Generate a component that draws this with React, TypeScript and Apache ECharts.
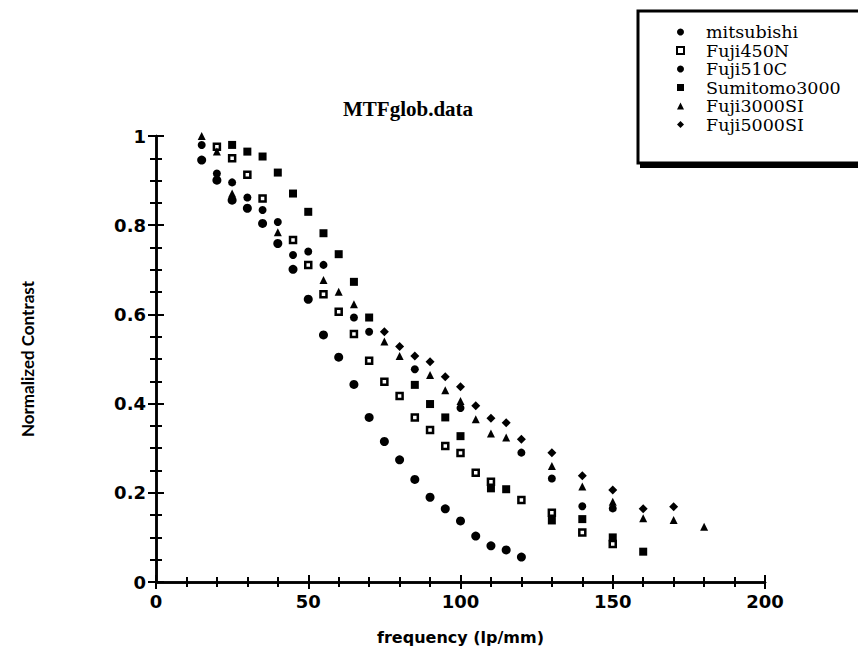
import React, { useEffect, useRef } from "react";
import * as echarts from "echarts";

const seriesNames = ["mitsubishi", "Fuji450N", "Fuji510C", "Sumitomo3000", "Fuji3000SI", "Fuji5000SI"];

const mitsubishi = [
  [15, 0.946], [20, 0.901], [25, 0.856], [30, 0.838], [35, 0.804], [40, 0.759], [45, 0.701], [50, 0.634],
  [55, 0.554], [60, 0.504], [65, 0.443], [70, 0.369], [75, 0.315], [80, 0.274], [85, 0.23], [90, 0.19],
  [95, 0.164], [100, 0.137], [105, 0.103], [110, 0.081], [115, 0.072], [120, 0.056],
];
const fuji450N = [
  [20, 0.976], [25, 0.95], [30, 0.913], [35, 0.86], [45, 0.767], [50, 0.711], [55, 0.645], [60, 0.606],
  [65, 0.556], [70, 0.496], [75, 0.449], [80, 0.417], [85, 0.369], [90, 0.341], [95, 0.305], [100, 0.289],
  [105, 0.245], [110, 0.225], [120, 0.184], [130, 0.155], [140, 0.111], [150, 0.085],
];
const fuji510C = [
  [15, 0.98], [20, 0.916], [25, 0.896], [30, 0.862], [35, 0.834], [40, 0.807], [45, 0.733], [50, 0.741],
  [55, 0.711], [65, 0.593], [70, 0.561], [85, 0.477], [100, 0.39], [120, 0.29], [130, 0.232], [140, 0.17],
  [150, 0.165],
];
const sumitomo3000 = [
  [25, 0.98], [30, 0.965], [35, 0.954], [40, 0.918], [45, 0.871], [50, 0.83], [55, 0.782], [60, 0.735],
  [65, 0.673], [70, 0.593], [85, 0.442], [90, 0.399], [95, 0.369], [100, 0.327], [110, 0.21], [115, 0.208],
  [130, 0.138], [140, 0.141], [150, 0.1], [160, 0.068],
];
const fuji3000SI = [
  [15, 1.0], [20, 0.965], [25, 0.871], [40, 0.784], [55, 0.677], [60, 0.651], [65, 0.623], [75, 0.539],
  [80, 0.507], [90, 0.464], [95, 0.43], [100, 0.406], [105, 0.365], [110, 0.333], [115, 0.324], [130, 0.26],
  [140, 0.214], [150, 0.18], [160, 0.143], [170, 0.139], [180, 0.124],
];
const fuji5000SI = [
  [75, 0.561], [80, 0.528], [85, 0.507], [90, 0.494], [95, 0.46], [100, 0.438], [105, 0.395], [110, 0.367],
  [115, 0.357], [120, 0.32], [130, 0.29], [140, 0.238], [150, 0.206], [160, 0.164], [170, 0.169],
];

const seriesData = [mitsubishi, fuji450N, fuji510C, sumitomo3000, fuji3000SI, fuji5000SI];
const symbols = ["circle", "rect", "circle", "rect", "triangle", "diamond"];
const symbolSizes = [9, 6, 8, 8, 8, 9];

export default function App() {
  const ref = useRef<HTMLDivElement>(null);
  useEffect(() => {
    if (!ref.current) return;
    const chart = echarts.init(ref.current, null, { renderer: "svg" });
    const tickFont = { fontFamily: "DejaVu Sans", fontWeight: "bold" as const, fontSize: 18, color: "#000" };
    const axisLine = { show: true, lineStyle: { color: "#000", width: 2.5 } };
    const series = seriesNames.map((name, i) => ({
      name,
      type: "scatter",
      data: seriesData[i],
      symbol: symbols[i],
      symbolSize: symbolSizes[i],
      itemStyle:
        i === 1
          ? { color: "#fff", borderColor: "#000", borderWidth: 2.5, opacity: 1 }
          : { color: "#000", opacity: 1 },
      z: 2,
    }));
    chart.setOption({
      animation: false,
      backgroundColor: "#fff",
      title: {
        text: "MTFglob.data",
        left: 338,
        top: 93,
        textStyle: { fontFamily: "Liberation Serif", fontWeight: "bold", fontSize: 21, color: "#000" },
      },
      grid: { left: 156, right: 93, top: 136, bottom: 79 },
      legend: {
        orient: "vertical",
        left: 671,
        top: 18,
        itemWidth: 7,
        itemHeight: 7,
        itemGap: 0.5,
        data: seriesNames,
        textStyle: { fontFamily: "DejaVu Serif", fontSize: 17.5, lineHeight: 18, color: "#000", padding: [0, 0, 0, 17] },
        z: 10,
      },
      xAxis: [
        {
          type: "value",
          min: 0,
          max: 200,
          interval: 50,
          position: "bottom",
          name: "frequency (lp/mm)",
          nameLocation: "middle",
          nameGap: 47,
          nameTextStyle: { fontFamily: "DejaVu Sans", fontWeight: "bold", fontSize: 16, color: "#000" },
          axisLine,
          axisTick: { show: true, length: 7, inside: false, lineStyle: { color: "#000", width: 2 } },
          minorTick: { show: true, splitNumber: 5, length: 5, lineStyle: { color: "#000", width: 2 } },
          axisLabel: { ...tickFont, margin: 10 },
          splitLine: { show: false },
        },
        {
          type: "value",
          min: 0,
          max: 200,
          interval: 50,
          position: "top",
          axisLine,
          axisTick: { show: true, length: 7, lineStyle: { color: "#000", width: 2 } },
          minorTick: { show: true, splitNumber: 5, length: 5, lineStyle: { color: "#000", width: 2 } },
          axisLabel: { show: false },
          splitLine: { show: false },
        },
      ],
      yAxis: [
        {
          type: "value",
          min: 0,
          max: 1,
          interval: 0.2,
          position: "left",
          name: "Normalized Contrast",
          nameLocation: "middle",
          nameGap: 120,
          nameRotate: 90,
          nameTextStyle: { fontFamily: "Lato", fontWeight: "bold", fontSize: 17, color: "#000" },
          axisLine,
          axisTick: { show: true, length: 8, lineStyle: { color: "#000", width: 2 } },
          minorTick: { show: true, splitNumber: 4, length: 6, lineStyle: { color: "#000", width: 2 } },
          axisLabel: { ...tickFont, margin: 10 },
          splitLine: { show: false },
        },
        {
          type: "value",
          min: 0,
          max: 1,
          interval: 0.2,
          position: "right",
          axisLine,
          axisTick: { show: true, length: 8, lineStyle: { color: "#000", width: 2 } },
          minorTick: { show: true, splitNumber: 4, length: 6, lineStyle: { color: "#000", width: 2 } },
          axisLabel: { show: false },
          splitLine: { show: false },
        },
      ],
      graphic: [
        {
          type: "rect",
          z: 5,
          shape: { x: 640, y: 15, width: 300, height: 153 },
          style: { fill: "#000" },
        },
        {
          type: "rect",
          z: 6,
          shape: { x: 638, y: 11, width: 300, height: 152 },
          style: { fill: "#fff", stroke: "#000", lineWidth: 3 },
        },
      ],
      series,
    });
    return () => chart.dispose();
  }, []);
  return <div ref={ref} style={{ position: "fixed", left: 0, top: 0, width: 858, height: 661 }} />;
}
